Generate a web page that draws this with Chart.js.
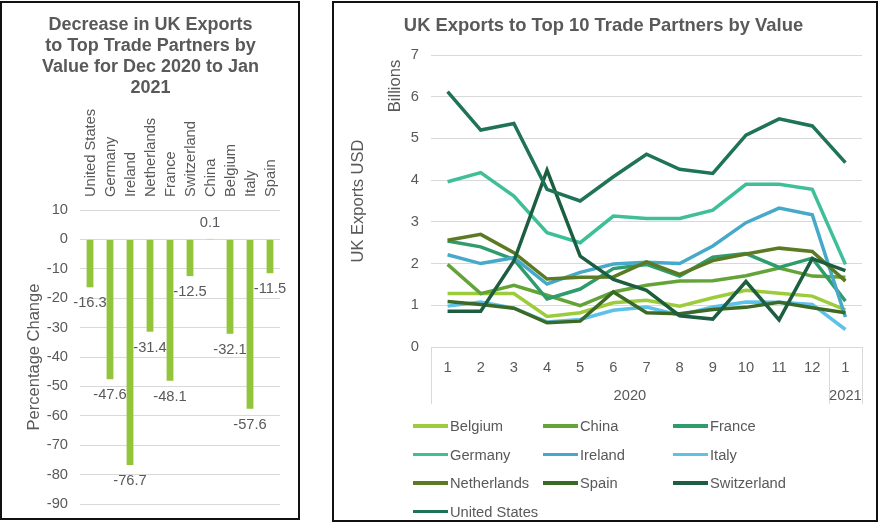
<!DOCTYPE html>
<html><head><meta charset="utf-8">
<script src="https://cdn.jsdelivr.net/npm/chart.js@4/dist/chart.umd.min.js"></script>
<style>
html,body{margin:0;padding:0;background:#fff;}
body{width:880px;height:525px;position:relative;overflow:hidden;font-family:"Liberation Sans",Arial,sans-serif;}
.panel{position:absolute;box-sizing:border-box;border:2px solid #111;background:#fff;}
#p1{left:0;top:1px;width:300px;height:519px;}
#p2{left:332px;top:1px;width:546px;height:521px;}
canvas{position:absolute;left:0;top:0;}
#legend{position:absolute;left:79px;top:409px;width:420px;}
.li{position:absolute;height:28px;line-height:28px;font-size:14.7px;color:#595959;white-space:nowrap;}
.li span.sw{display:inline-block;width:35px;height:3.5px;vertical-align:middle;margin-right:2px;position:relative;top:-1px;}
</style></head>
<body>
<div class="panel" id="p1"><canvas id="c1" width="296" height="515"></canvas></div>
<div class="panel" id="p2"><canvas id="c2" width="542" height="517"></canvas><div id="legend"></div></div>
<script>
// ---- Left chart data ----
const partners = ['United States','Germany','Ireland','Netherlands','France','Switzerland','China','Belgium','Italy','Spain'];
const pctChange = [-16.3,-47.6,-76.7,-31.4,-48.1,-12.5,0.1,-32.1,-57.6,-11.5];

// ---- Right chart data ----
const months = ['1','2','3','4','5','6','7','8','9','10','11','12','1'];
const years = ['2020','2021'];
const yearSpans = [12,1];
const seriesNames = ['Belgium','China','France','Germany','Ireland','Italy','Netherlands','Spain','Switzerland','United States'];
const belgium     = [1.28,1.28,1.28,0.73,0.82,1.06,1.12,0.98,1.18,1.36,1.29,1.22,0.89];
const china       = [1.98,1.28,1.48,1.24,0.99,1.32,1.48,1.58,1.59,1.71,1.89,1.70,1.67];
const france      = [2.54,2.40,2.10,1.15,1.39,1.88,1.98,1.70,2.15,2.24,1.91,2.13,1.10];
const germany     = [3.96,4.18,3.62,2.74,2.50,3.14,3.08,3.08,3.28,3.90,3.90,3.78,1.98];
const ireland     = [2.21,2.00,2.14,1.51,1.79,1.99,2.03,2.00,2.42,2.98,3.33,3.17,0.72];
const italy       = [0.98,1.08,0.93,0.60,0.66,0.88,0.96,0.76,0.96,1.08,1.07,1.02,0.42];
const netherlands = [2.56,2.70,2.26,1.63,1.67,1.68,2.04,1.74,2.07,2.23,2.37,2.29,1.58];
const spain       = [1.09,1.02,0.93,0.58,0.62,1.32,0.82,0.80,0.90,0.95,1.07,0.94,0.82];
const switzerland = [0.86,0.86,2.06,4.24,2.18,1.62,1.36,0.75,0.67,1.57,0.65,2.12,1.83];
const unitedStates= [6.12,5.20,5.36,3.78,3.50,4.08,4.62,4.26,4.16,5.08,5.47,5.30,4.42];
const seriesValues = [belgium,china,france,germany,ireland,italy,netherlands,spain,switzerland,unitedStates];
const seriesColors = ['#9ccb3b','#64a338','#2e9c6c','#3ebf98','#47a9c9','#5ec1ea','#5b7a22','#3a6a25','#1d5e40','#1f7356'];

const GRAY = '#595959';
const FONT = '"Liberation Sans", Arial, sans-serif';
Chart.defaults.font.family = FONT;
Chart.defaults.color = GRAY;
Chart.defaults.animation = false;

const barLabels = {
  id:'barLabels',
  afterDatasetsDraw(chart){
    const ctx = chart.ctx, meta = chart.getDatasetMeta(0), data = chart.data.datasets[0].data;
    const xs = chart.scales.x, ca = chart.chartArea;
    ctx.save();
    ctx.font = '14.7px ' + FONT; ctx.fillStyle = GRAY; ctx.textAlign = 'center'; ctx.textBaseline = 'middle';
    meta.data.forEach((el,i)=>{
      const v = data[i];
      ctx.fillText(v.toFixed(1), el.x, v < 0 ? el.y + 16 : el.y - 16);
    });
    // category labels above the plot, rotated
    ctx.textAlign = 'left';
    chart.data.labels.forEach((lab,i)=>{
      ctx.save();
      ctx.translate(xs.getPixelForValue(i) + 1, ca.top - 13);
      ctx.rotate(-Math.PI/2);
      ctx.fillText(lab, 0, 0);
      ctx.restore();
    });
    ctx.restore();
  }
};

new Chart(document.getElementById('c1'), {
  type:'bar',
  data:{labels:partners, datasets:[{data:pctChange, backgroundColor:'#92c43c', categoryPercentage:1, barPercentage:0.34}]},
  options:{
    responsive:false,
    layout:{padding:{left:19,right:18,top:0,bottom:14}},
    plugins:{
      legend:{display:false}, tooltip:{enabled:false},
      title:{display:true, text:['Decrease in UK Exports','to Top Trade Partners by','Value for Dec 2020 to Jan','2021'], color:GRAY,
        font:{size:18, weight:'bold', lineHeight:21/18}, padding:{top:11.5,bottom:11.5}}
    },
    scales:{
      x:{position:'top', grid:{display:false}, border:{display:false},
         ticks:{display:false},
         afterFit(s){ s.height = 100; }},
      y:{min:-90, max:10, ticks:{stepSize:10, padding:12, font:{size:14.7}, color:GRAY},
         grid:{color:'#d9d9d9', drawTicks:false}, border:{display:false},
         title:{display:true, text:'Percentage Change', font:{size:16.5}, color:GRAY},
         afterFit(s){ s.width = 59; s.paddingTop = 0; s.paddingBottom = 0; }}
    }
  },
  plugins:[barLabels]
});

const yearAxis = {
  id:'yearAxis',
  afterDraw(chart){
    const ctx = chart.ctx, xs = chart.scales.x, ca = chart.chartArea;
    const half = (xs.getPixelForTick(1) - xs.getPixelForTick(0)) / 2;
    const bound = k => k >= months.length ? xs.right : xs.getPixelForTick(k) - half;
    ctx.save();
    ctx.strokeStyle = '#d9d9d9'; ctx.lineWidth = 1;
    let k = 0;
    const bounds = [0];
    yearSpans.forEach(n => { k += n; bounds.push(k); });
    bounds.forEach(b => {
      const x = Math.round(bound(b)) + 0.5;
      ctx.beginPath(); ctx.moveTo(x, ca.bottom); ctx.lineTo(x, xs.bottom); ctx.stroke();
    });
    ctx.font = '14.7px ' + FONT; ctx.fillStyle = GRAY; ctx.textAlign = 'center'; ctx.textBaseline = 'middle';
    years.forEach((y,i) => {
      const x0 = bound(bounds[i]), x1 = bound(bounds[i+1]);
      ctx.fillText(y, (x0 + x1) / 2, xs.bottom - 8.5);
    });
    // display-units label
    ctx.translate(61, 83); ctx.rotate(-Math.PI/2);
    ctx.font = '16.5px ' + FONT;
    ctx.fillText('Billions', 0, 0);
    ctx.restore();
  }
};

const lineChart = new Chart(document.getElementById('c2'), {
  type:'line',
  data:{labels:months, datasets:seriesNames.map((n,i)=>({label:n, data:seriesValues[i], borderColor:seriesColors[i], backgroundColor:seriesColors[i],
    borderWidth:3.5, pointRadius:0, tension:0, fill:false, order:seriesNames.length - i}))},
  options:{
    responsive:false,
    layout:{padding:{left:11,right:14,top:0,bottom:116}},
    plugins:{
      legend:{display:false}, tooltip:{enabled:false},
      title:{display:true, text:'UK Exports to Top 10 Trade Partners by Value', color:GRAY,
        font:{size:18.4, weight:'bold', lineHeight:21/18.4}, padding:{top:12.5,bottom:18.5}}
    },
    scales:{
      x:{offset:true, grid:{display:false}, border:{display:true, color:'#d9d9d9'},
         ticks:{autoSkip:false, maxRotation:0, minRotation:0, padding:4, font:{size:14.7}, color:GRAY},
         afterFit(s){ s.height = 57; }},
      y:{min:0, max:7, ticks:{stepSize:1, padding:12, font:{size:14.7}, color:GRAY},
         grid:{color:'#d9d9d9', drawTicks:false}, border:{display:false},
         title:{display:true, text:'UK Exports USD', font:{size:16.5}, color:GRAY},
         afterFit(s){ s.width = 86; }}
    }
  },
  plugins:[yearAxis]
});

// HTML legend built from the chart's datasets, 3 fixed columns
const leg = document.getElementById('legend');
lineChart.data.datasets.forEach((ds,i)=>{
  const d = document.createElement('div');
  d.className = 'li';
  d.style.left = (i % 3) * 130 + 'px';
  d.style.top = Math.floor(i / 3) * 28.5 + 'px';
  const sw = document.createElement('span'); sw.className = 'sw'; sw.style.background = ds.borderColor;
  d.appendChild(sw); d.appendChild(document.createTextNode(ds.label));
  leg.appendChild(d);
});
</script>
</body></html>
